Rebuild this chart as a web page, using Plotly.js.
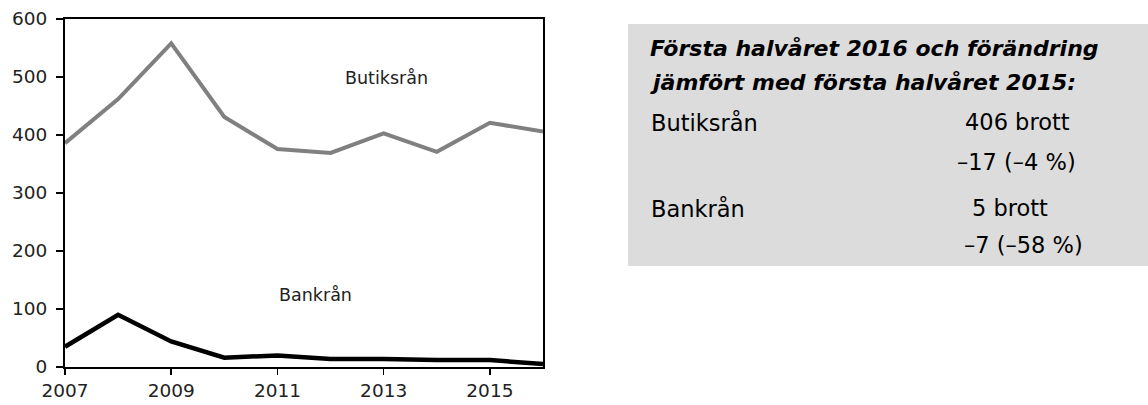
<!DOCTYPE html>
<html><head><meta charset="utf-8">
<script src="https://cdn.plot.ly/plotly-3.0.1.min.js"></script>
<style>body{margin:0;background:#fff}#c{width:1148px;height:405px}</style>
</head><body><div id="c"></div>
<script>
const years = [2007,2008,2009,2010,2011,2012,2013,2014,2015,2016];
const butiksran = [386,462,558,431,376,369,403,371,421,406];
const bankran = [35,90,44,16,20,14,14,12,12,5];
const xTicks = [2007,2009,2011,2013,2015];
const yTicks = [0,100,200,300,400,500,600];

const L=65, R=543, T=19, B=367, W=1148, H=405;
const px = x => (x-L)/(R-L);
const py = y => (B-y)/(B-T);

const font = '"DejaVu Sans", sans-serif';
const traces = [
  {x:years, y:butiksran, mode:'lines', line:{color:'#808080', width:4}, hoverinfo:'skip'},
  {x:years, y:bankran, mode:'lines', line:{color:'#000', width:4.5}, hoverinfo:'skip'}
];
function ann(text, x, y, size, anchor, color){
  return {text:text, xref:'paper', yref:'paper', x:px(x), y:py(y), xanchor:anchor||'left', yanchor:'middle', showarrow:false, font:{family:font, size:size, color:color||'#000'}};
}
const layout = {
  width:W, height:H, margin:{l:L, r:W-R, t:T, b:H-B},
  paper_bgcolor:'#fff', plot_bgcolor:'#fff', showlegend:false,
  font:{family:font, color:'#222'},
  xaxis:{range:[2007,2016], tickvals:xTicks, ticks:'outside', ticklen:6, tickwidth:1.5, tickcolor:'#000',
    showline:true, linecolor:'#000', linewidth:2, mirror:true, showgrid:false, zeroline:false, tickfont:{size:18.5, color:'#222'}},
  yaxis:{range:[0,600], tickvals:yTicks, ticks:'outside', ticklen:7, tickwidth:1.5, tickcolor:'#000', ticklabelstandoff:5,
    showline:true, linecolor:'#000', linewidth:2, mirror:true, showgrid:false, zeroline:false, tickfont:{size:18.5, color:'#222'}},
  shapes:[{type:'rect', xref:'paper', yref:'paper', x0:px(628), x1:px(1148), y0:py(266), y1:py(24), fillcolor:'#dcdcdc', line:{width:0}, layer:'below'}],
  annotations:[
    ann('Butiksrån', 386, 78, 17.5, 'center', '#222'),
    ann('Bankrån', 315, 295, 17.5, 'center', '#222'),
    ann('<b><i>Första halvåret 2016 och förändring</i></b>', 648, 48, 22),
    ann('<b><i>jämfört med första halvåret 2015:</i></b>', 648, 82, 22),
    ann('Butiksrån', 649, 122, 22.5),
    ann('406 brott', 963, 122, 22.5),
    ann('\u201317 (\u20134 %)', 955, 162, 22.5),
    ann('Bankrån', 649, 208, 22.5),
    ann('5 brott', 970, 208, 22.5),
    ann('\u20137 (\u201358 %)', 962, 245, 22.5)
  ]
};
Plotly.newPlot('c', traces, layout, {staticPlot:true, displayModeBar:false});
</script></body></html>
